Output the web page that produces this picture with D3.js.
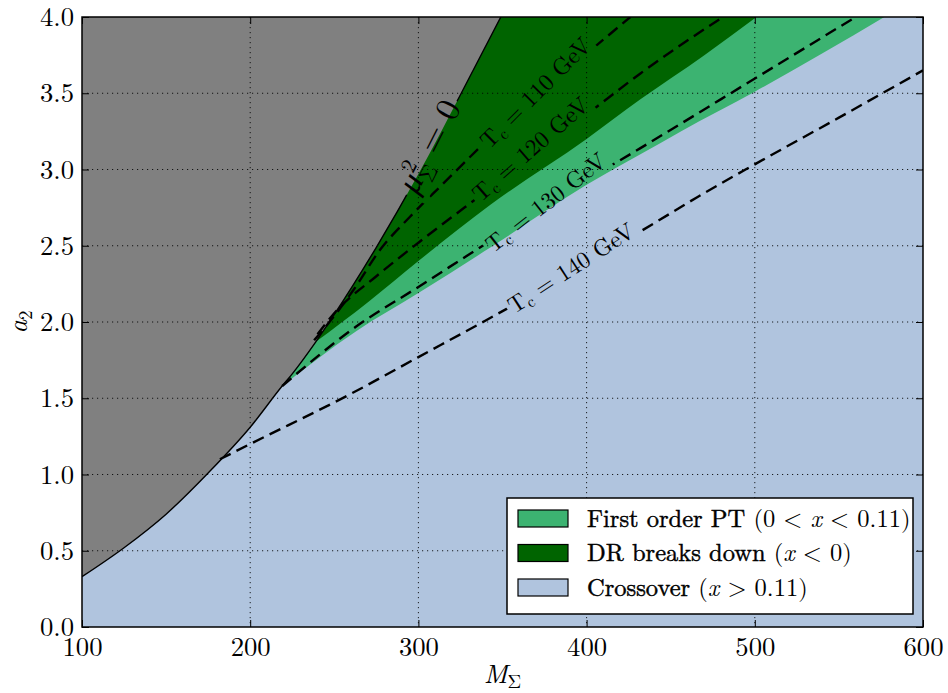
<!DOCTYPE html>
<html>
<head>
<meta charset="utf-8">
<script src="https://cdn.jsdelivr.net/npm/d3@7"></script>
<style>
  body { margin: 0; background: #fff; }
</style>
</head>
<body>
<svg id="chart" width="948" height="693"></svg>
<script>
// ---- data ----
const xTicks = [100, 200, 300, 400, 500, 600];
const yTicks = [0.0, 0.5, 1.0, 1.5, 2.0, 2.5, 3.0, 3.5, 4.0];

// mu_Sigma^2 = 0 line (M_Sigma, a2)
const muZero = [[100, 0.33], [125, 0.52], [150, 0.74], [175, 1.01], [200, 1.31], [219, 1.58],
  [225, 1.66], [239, 1.87], [250, 2.05], [275, 2.49], [300, 2.97], [325, 3.49], [349, 4.0]];
// x = 0.11 edge (first order / crossover)
const crossoverEdge = [[219, 1.58], [263, 1.94], [300, 2.19], [343, 2.49], [400, 2.90],
  [432, 3.10], [456, 3.25], [500, 3.51], [540, 3.76], [577, 4.0]];
// x = 0 edge (DR breaks down)
const drEdge = [[239, 1.87], [270, 2.13], [300, 2.40], [343, 2.77], [400, 3.20],
  [432, 3.46], [470, 3.75], [501, 4.0]];

// Tc contours
const tc110 = [[238, 1.88], [250, 2.04], [262, 2.22], [277, 2.47], [295, 2.69], [315, 2.91],
  [337, 3.15], [380, 3.57], [426, 4.0]];
const tc120 = [[240, 1.92], [251, 2.07], [275, 2.30], [300, 2.52], [343, 2.88], [400, 3.36],
  [432, 3.63], [481, 4.0]];
const tc130 = [[219, 1.58], [263, 1.97], [300, 2.23], [341, 2.52], [400, 2.93], [432, 3.14],
  [502, 3.61], [560, 4.0]];
const tc140 = [[182, 1.10], [200, 1.20], [260, 1.53], [300, 1.77], [340, 2.01], [390, 2.32],
  [442, 2.66], [466, 2.82], [501, 3.04], [550, 3.34], [600, 3.65]];

const tcValues = [110, 120, 130, 140];
const tcLabelAt = [[370, 3.50], [367, 3.13], [376, 2.78], [391, 2.35]];
const muLabelAt = [307, 3.15];

const legendNames = ["First order PT", "DR breaks down", "Crossover"];
const legendMath = [["(0 < ", "x", " < 0.11)"], ["(", "x", " < 0)"], ["(", "x", " > 0.11)"]];

// ---- chart ----
const FONT = '"Latin Modern Roman", "Liberation Serif", serif';
const colGray = "#808080", colDark = "#006400", colLight = "#3cb371", colBlue = "#b0c4de";

const svg = d3.select("#chart");
const pLeft = 82, pRight = 923, pTop = 17, pBottom = 627;

const x = d3.scaleLinear().domain([100, 600]).range([pLeft, pRight]);
const y = d3.scaleLinear().domain([0, 4]).range([pBottom, pTop]);

const line = d3.line().x(d => x(d[0])).y(d => y(d[1])).curve(d3.curveMonotoneX);
const upArea = d3.area().x(d => x(d[0])).y0(d => y(d[1])).y1(y(4)).curve(d3.curveMonotoneX);

const defs = svg.append("defs");
defs.append("clipPath").attr("id", "plotClip")
    .append("rect").attr("x", pLeft).attr("y", pTop)
    .attr("width", pRight - pLeft).attr("height", pBottom - pTop);

const plot = svg.append("g").attr("clip-path", "url(#plotClip)");

// crossover background
plot.append("rect")
    .attr("x", pLeft).attr("y", pTop)
    .attr("width", pRight - pLeft).attr("height", pBottom - pTop)
    .attr("fill", colBlue);

// first order above x = 0.11, DR breakdown above x = 0, gray above mu^2 = 0
plot.append("path").datum(crossoverEdge).attr("d", upArea).attr("fill", colLight);
plot.append("path").datum(drEdge).attr("d", upArea).attr("fill", colDark);
plot.append("path").datum(muZero).attr("d", upArea).attr("fill", colGray);

// grid
const grid = plot.append("g")
    .attr("stroke", "#000")
    .attr("stroke-width", 1)
    .attr("stroke-dasharray", "1.2,3.8")
    .attr("opacity", 0.85);
grid.selectAll(".gx").data(xTicks.slice(1, -1)).join("line")
    .attr("x1", d => x(d)).attr("x2", d => x(d))
    .attr("y1", pTop).attr("y2", pBottom);
grid.selectAll(".gy").data(yTicks.slice(1, -1)).join("line")
    .attr("y1", d => y(d)).attr("y2", d => y(d))
    .attr("x1", pLeft).attr("x2", pRight);

// mask so the contour labels break their lines
const mask = defs.append("mask").attr("id", "labelMask")
    .attr("maskUnits", "userSpaceOnUse")
    .attr("x", 0).attr("y", 0).attr("width", 948).attr("height", 693);
mask.append("rect").attr("width", 948).attr("height", 693).attr("fill", "#fff");

const lines = plot.append("g").attr("mask", "url(#labelMask)");

lines.append("path")
    .datum(muZero)
    .attr("d", line)
    .attr("fill", "none")
    .attr("stroke", "#000")
    .attr("stroke-width", 1.4);

lines.selectAll(".tc")
    .data([tc110, tc120, tc130, tc140])
    .join("path")
    .attr("d", line)
    .attr("fill", "none")
    .attr("stroke", "#000")
    .attr("stroke-width", 2.4)
    .attr("stroke-dasharray", "12,6.5");

// contour labels
const labels = svg.append("g");
const tcAngles = [-45, -41, -38, -33];

tcValues.forEach((v, i) => {
    const t = labels.append("text")
        .attr("transform", `translate(${x(tcLabelAt[i][0])},${y(tcLabelAt[i][1])}) rotate(${tcAngles[i]})`)
        .attr("text-anchor", "middle")
        .attr("font-size", 23.5);
    t.append("tspan").attr("dy", 7).text("T");
    t.append("tspan").attr("dy", 4).attr("font-size", 16).text("c");
    t.append("tspan").attr("dy", -4).text(` = ${v} GeV`);
});

const mu = labels.append("text")
    .attr("transform", `translate(${x(muLabelAt[0])},${y(muLabelAt[1])}) rotate(-63)`)
    .attr("text-anchor", "middle")
    .attr("font-size", 34);
mu.append("tspan").attr("dy", 10).attr("font-style", "italic").text("μ");
mu.append("tspan").attr("dy", -13).attr("font-size", 22).text("2");
mu.append("tspan").attr("dx", -11).attr("dy", 21).attr("font-size", 22).text("Σ");
mu.append("tspan").attr("dy", -8).text(" = 0");

labels.selectAll("text").style("font-family", FONT);

// knock the label boxes out of the lines
labels.selectAll("text").each(function () {
    const b = this.getBBox();
    mask.append("rect")
        .attr("transform", d3.select(this).attr("transform"))
        .attr("x", b.x - 3).attr("y", b.y + 2)
        .attr("width", b.width + 6).attr("height", b.height - 4)
        .attr("fill", "#000");
});

// axes with inward ticks on all sides
const tickLen = 7;
const xAxis = svg.append("g")
    .attr("transform", `translate(0,${pBottom})`)
    .call(d3.axisBottom(x).tickValues(xTicks).tickFormat(d3.format("d"))
        .tickSizeInner(-tickLen).tickSizeOuter(0).tickPadding(10));
const yAxis = svg.append("g")
    .attr("transform", `translate(${pLeft},0)`)
    .call(d3.axisLeft(y).tickValues(yTicks).tickFormat(d3.format(".1f"))
        .tickSizeInner(-tickLen).tickSizeOuter(0).tickPadding(8));
const xTop = svg.append("g")
    .attr("transform", `translate(0,${pTop})`)
    .call(d3.axisTop(x).tickValues(xTicks).tickFormat("").tickSizeInner(-tickLen).tickSizeOuter(0));
const yRight = svg.append("g")
    .attr("transform", `translate(${pRight},0)`)
    .call(d3.axisRight(y).tickValues(yTicks).tickFormat("").tickSizeInner(-tickLen).tickSizeOuter(0));

[xAxis, yAxis, xTop, yRight].forEach(g => {
    g.select(".domain").remove();
    g.selectAll(".tick line").attr("stroke", "#000").attr("stroke-width", 1);
    g.selectAll(".tick text")
        .attr("font-size", 26.7)
        .attr("fill", "#000");
});

// frame
svg.append("rect")
    .attr("x", pLeft).attr("y", pTop)
    .attr("width", pRight - pLeft).attr("height", pBottom - pTop)
    .attr("fill", "none")
    .attr("stroke", "#000")
    .attr("stroke-width", 1.5);

// axis labels
const xl = svg.append("text")
    .attr("x", (pLeft + pRight) / 2).attr("y", 683)
    .attr("text-anchor", "middle")
    .attr("font-size", 26.7);
xl.append("tspan").attr("font-style", "italic").text("M");
xl.append("tspan").attr("dy", 5).attr("font-size", 19).text("Σ");

const yl = svg.append("text")
    .attr("transform", `translate(27,${(pTop + pBottom) / 2}) rotate(-90)`)
    .attr("text-anchor", "middle")
    .attr("font-size", 26.7);
yl.append("tspan").attr("font-style", "italic").text("a");
yl.append("tspan").attr("dy", 5).attr("font-size", 19).text("2");

// legend
const legend = svg.append("g");
legend.append("rect")
    .attr("x", 507).attr("y", 498)
    .attr("width", 406).attr("height", 116)
    .attr("fill", "#fff")
    .attr("stroke", "#000")
    .attr("stroke-width", 1.5);

const legendColors = [colLight, colDark, colBlue];
legendNames.forEach((name, i) => {
    const cy = 518.5 + i * 34.5;
    legend.append("rect")
        .attr("x", 518).attr("y", cy - 8.5)
        .attr("width", 50).attr("height", 17)
        .attr("fill", legendColors[i])
        .attr("stroke", "#000")
        .attr("stroke-width", 1.2);
    const t = legend.append("text")
        .attr("x", 587).attr("y", cy + 8)
        .attr("font-size", 24.5);
    t.append("tspan").attr("stroke", "#000").attr("stroke-width", 0.45).text(name + " ");
    t.append("tspan").text(legendMath[i][0]);
    t.append("tspan").attr("font-style", "italic").text(legendMath[i][1]);
    t.append("tspan").text(legendMath[i][2]);
});

svg.selectAll("text").style("font-family", FONT).style("fill", "#000");
</script>
</body>
</html>
